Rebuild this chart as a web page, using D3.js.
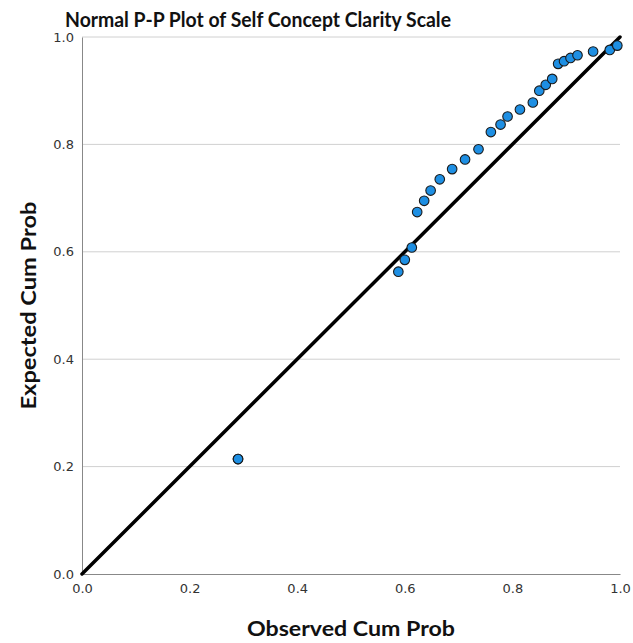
<!DOCTYPE html>
<html>
<head>
<meta charset="utf-8">
<script src="https://cdn.jsdelivr.net/npm/d3@7"></script>
<style>
  body { margin: 0; background: #fff; }
  svg { display: block; }
</style>
</head>
<body>
<svg id="chart" width="633" height="643"></svg>
<script>
// Observed vs expected cumulative probabilities
const observed = [0.290, 0.290, 0.588, 0.600, 0.613, 0.623, 0.636, 0.648, 0.665, 0.688,
                  0.712, 0.737, 0.760, 0.778, 0.791, 0.814, 0.838, 0.850, 0.862, 0.874,
                  0.885, 0.896, 0.908, 0.921, 0.950, 0.981, 0.995];
const expected = [0.214, 0.214, 0.563, 0.585, 0.608, 0.674, 0.695, 0.714, 0.735, 0.754,
                  0.772, 0.791, 0.823, 0.837, 0.852, 0.865, 0.878, 0.900, 0.911, 0.922,
                  0.950, 0.955, 0.961, 0.966, 0.973, 0.976, 0.984];
const tickValues = [0, 0.2, 0.4, 0.6, 0.8, 1.0];
const titleText = "Normal P-P Plot of Self Concept Clarity Scale";
const xTitle = "Observed Cum Prob";
const yTitle = "Expected Cum Prob";

const svg = d3.select("#chart");
const plotLeft = 82, plotRight = 620, plotTop = 37, plotBottom = 574;

const x = d3.scaleLinear().domain([0, 1]).range([plotLeft, plotRight]);
const y = d3.scaleLinear().domain([0, 1]).range([plotBottom, plotTop]);

const tickFont = "'DejaVu Sans', sans-serif";
const titleFont = "Lato, 'Open Sans', sans-serif";

// horizontal gridlines
svg.append("g")
  .selectAll("line")
  .data(tickValues.filter(d => d > 0))
  .join("line")
  .attr("x1", plotLeft).attr("x2", plotRight)
  .attr("y1", d => y(d)).attr("y2", d => y(d))
  .attr("stroke", "#d0d0d0").attr("stroke-width", 1);

// axes
const xAxis = svg.append("g")
  .attr("transform", `translate(0,${plotBottom})`)
  .call(d3.axisBottom(x).tickValues(tickValues).tickFormat(d3.format(".1f")).tickSize(0).tickPadding(10));
const yAxis = svg.append("g")
  .attr("transform", `translate(${plotLeft},0)`)
  .call(d3.axisLeft(y).tickValues(tickValues).tickFormat(d3.format(".1f")).tickSize(0).tickPadding(8));

[xAxis, yAxis].forEach(g => {
  g.select(".domain").attr("stroke", "#888").attr("stroke-width", 1);
  g.selectAll("text")
    .attr("font-family", tickFont)
    .attr("font-size", 13)
    .attr("fill", "#333");
});

// reference diagonal
svg.append("line")
  .attr("x1", x(0)).attr("y1", y(0))
  .attr("x2", x(1)).attr("y2", y(1))
  .attr("stroke", "#000").attr("stroke-width", 3.5)
  .attr("stroke-linecap", "round");

// points
svg.append("g")
  .selectAll("circle")
  .data(observed.map((o, i) => [o, expected[i]]))
  .join("circle")
  .attr("cx", d => x(d[0]))
  .attr("cy", d => y(d[1]))
  .attr("r", 4.8)
  .attr("fill", "#1e8fe3")
  .attr("stroke", "#1a1a1a")
  .attr("stroke-width", 1.1);

// titles
svg.append("text")
  .attr("x", 65).attr("y", 27)
  .attr("font-family", titleFont)
  .attr("font-weight", "bold")
  .attr("font-size", 20)
  .attr("fill", "#111")
  .attr("textLength", 386)
  .attr("lengthAdjust", "spacingAndGlyphs")
  .text(titleText);

svg.append("text")
  .attr("x", (plotLeft + plotRight) / 2).attr("y", 636)
  .attr("text-anchor", "middle")
  .attr("font-family", titleFont)
  .attr("font-weight", "bold")
  .attr("font-size", 20)
  .attr("fill", "#111")
  .attr("textLength", 208)
  .attr("lengthAdjust", "spacingAndGlyphs")
  .text(xTitle);

svg.append("text")
  .attr("transform", `translate(36,${(plotTop + plotBottom) / 2}) rotate(-90)`)
  .attr("text-anchor", "middle")
  .attr("font-family", titleFont)
  .attr("font-weight", "bold")
  .attr("font-size", 20)
  .attr("fill", "#111")
  .attr("textLength", 208)
  .attr("lengthAdjust", "spacingAndGlyphs")
  .text(yTitle);
</script>
</body>
</html>
